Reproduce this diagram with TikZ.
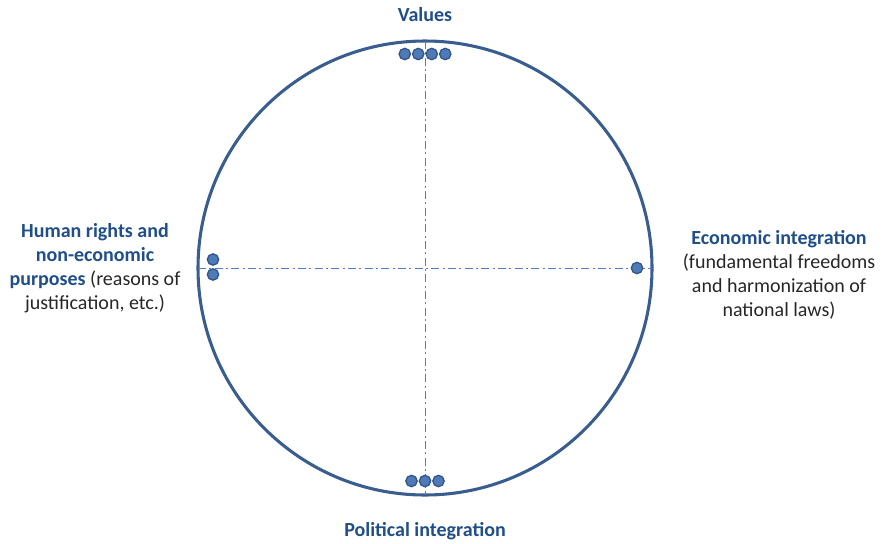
\documentclass[tikz,border=0pt]{standalone}
\usepackage{fontspec}
\setmainfont{Carlito}
\usetikzlibrary{positioning}
\definecolor{ringblue}{HTML}{3A5D8F}
\definecolor{titleblue}{HTML}{1F4E89}
\definecolor{beadfill}{HTML}{4E7BB7}
\definecolor{beaddraw}{HTML}{335789}
\definecolor{axisblue}{HTML}{4F7FBF}
\tikzset{>=latex}
\tikzstyle{ring}=[circle,draw=ringblue,line width=2.3pt,inner sep=0pt,outer sep=0pt]
\tikzstyle{bead}=[circle,draw=beaddraw,fill=beadfill,line width=1pt,minimum size=8.5pt,inner sep=0pt]
\tikzstyle{axisline}=[draw=axisblue,line width=0.75pt,dash pattern=on 6pt off 2.5pt on 1.5pt off 2.5pt]
\tikzstyle{heading}=[text=titleblue,font=\bfseries\fontsize{15}{18}\selectfont,inner sep=0pt]
\tikzstyle{note}=[align=center,text=black!85,font=\fontsize{15}{18}\selectfont,inner sep=0pt]

\begin{document}
\begin{tikzpicture}[x=0.75pt,y=-0.75pt]
\def \cx {425};
\def \cy {268};
\def \rad {227};
\def \gap {13.5};

\useasboundingbox (0,0) rectangle (884,543);

\node[ring,minimum size=2*\rad*0.75pt] (ring) at (\cx,\cy) {};

\draw[axisline] (ring.north) -- (ring.south);
\draw[axisline] (ring.west) -- (ring.east);

% points on the circle
\foreach \i in {0,...,3} {
	\node[bead] (top\i) at ({\cx - 1.5*\gap + \i*\gap}, 54) {};
};
\foreach \i in {0,...,2} {
	\node[bead] (bot\i) at ({\cx - \gap + \i*\gap}, 481) {};
};
\node[bead] (left0) at (213, 259.5) {};
\node[bead] (left1) at (213, 274.5) {};
\node[bead] (right0) at (637, 268) {};

% texts
\node[heading,anchor=base] (values) at (\cx, 21) {Values};
\node[heading,anchor=base] (political) at (\cx, 536) {Political integration};

\node[note] (human) at (95, 268)
{{\bfseries\color{titleblue}Human rights and}\\
 {\bfseries\color{titleblue}non-economic}\\
 {\bfseries\color{titleblue}purposes} (reasons of\\
 justification, etc.)};

\node[note] (economic) at (779, 275)
{{\bfseries\color{titleblue}Economic integration}\\
 (fundamental freedoms\\
 and harmonization of\\
 national laws)};

\end{tikzpicture}
\end{document}
